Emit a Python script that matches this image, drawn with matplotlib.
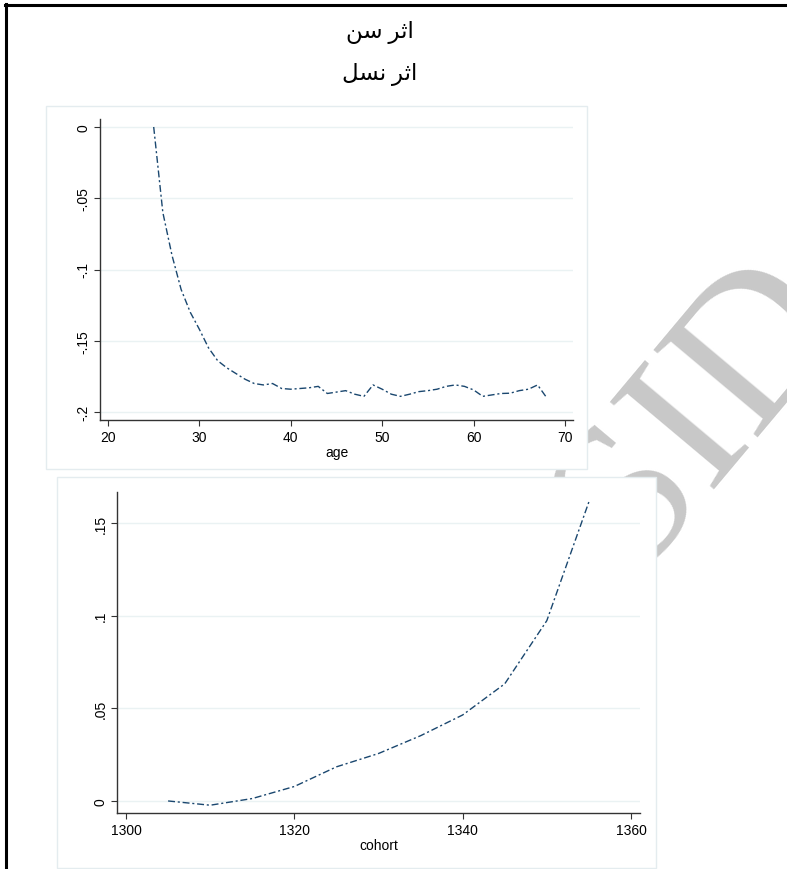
import numpy as np
import matplotlib
matplotlib.use("Agg")
import matplotlib.pyplot as plt
from matplotlib.patches import Rectangle
from matplotlib.lines import Line2D

plt.rcParams['font.family'] = ['Liberation Sans', 'DejaVu Sans']

# age effect (top panel)
age = list(range(25, 69))
age_effect = [0.0, -0.060, -0.090, -0.114, -0.130, -0.142, -0.155, -0.164, -0.169, -0.173,
              -0.177, -0.180, -0.181, -0.180, -0.1835, -0.184, -0.1835, -0.183, -0.182, -0.187,
              -0.186, -0.185, -0.1875, -0.189, -0.181, -0.184, -0.1875, -0.189, -0.1875, -0.1857,
              -0.185, -0.184, -0.182, -0.181, -0.182, -0.1845, -0.189, -0.188, -0.187, -0.1868,
              -0.185, -0.184, -0.181, -0.190]

# cohort effect (bottom panel)
cohort = [1305, 1310, 1315, 1320, 1325, 1330, 1335, 1340, 1345, 1350, 1355]
cohort_effect = [0.0, -0.0023, 0.0013, 0.0078, 0.0184, 0.0256, 0.0352, 0.0464, 0.0632, 0.0973, 0.1614]

age_ticks = [20, 30, 40, 50, 60, 70]
age_yticks = [0, -0.05, -0.1, -0.15, -0.2]
age_ylabels = ['0', '-.05', '-.1', '-.15', '-.2']
cohort_ticks = [1300, 1320, 1340, 1360]
cohort_yticks = [0, 0.05, 0.1, 0.15]
cohort_ylabels = ['0', '.05', '.1', '.15']

# titles (arabic presentation forms, visual order, since matplotlib does no shaping)
title1 = '\uFEE6\uFEB3 \uFEAE\uFE9B\uFE8D'         # اثر سن
title2 = '\uFEDE\uFEB4\uFEE7 \uFEAE\uFE9B\uFE8D'   # اثر نسل

W, H = 787, 870
fig = plt.figure(figsize=(W / 100, H / 100), dpi=100)

navy = '#1a476f'
grid_c = '#eaf2f3'
panel_c = '#e4ecef'


def px(x0, y0, x1, y1):
    return [x0 / W, 1 - y1 / H, (x1 - x0) / W, (y1 - y0) / H]


# watermark behind the panels
fig.text(700 / W, 1 - 412 / H, 'SID', fontsize=150, color='#c8c8c8', rotation=50,
         family='Liberation Serif', ha='center', va='center', zorder=-5)

# panel backgrounds
for r in [px(46, 107, 587, 470), px(57, 478, 656, 869)]:
    fig.patches.append(Rectangle((r[0], r[1]), r[2], r[3], transform=fig.transFigure,
                                 facecolor='white', edgecolor=panel_c, lw=1, zorder=0))

# outer frame (top and left)
fig.add_artist(Line2D([5 / W, 1], [1 - 6 / H, 1 - 6 / H], color='black', lw=2.2, transform=fig.transFigure))
fig.add_artist(Line2D([6 / W, 6 / W], [0, 1 - 5 / H], color='black', lw=2.2, transform=fig.transFigure))

fig.text(380 / W, 1 - 33 / H, title1, fontsize=16.5, ha='center', va='center',
         family=['Liberation Serif', 'DejaVu Sans'])
fig.text(380 / W, 1 - 75 / H, title2, fontsize=16.5, ha='center', va='center',
         family=['Liberation Serif', 'DejaVu Sans'])


def style(ax, xt, yt, ylab, xlabel):
    ax.set_facecolor('white')
    for s in ['top', 'right']:
        ax.spines[s].set_visible(False)
    for s in ['left', 'bottom']:
        ax.spines[s].set_color('#333333')
        ax.spines[s].set_linewidth(1.0)
    ax.set_xticks(xt)
    ax.set_yticks(yt)
    ax.set_yticklabels(ylab, rotation=90, va='center')
    ax.tick_params(labelsize=10, length=4, width=0.8, color='#333333', pad=3)
    ax.grid(axis='y', color=grid_c, lw=1.0)
    ax.set_axisbelow(True)
    ax.set_xlabel(xlabel, fontsize=10, labelpad=1)


ax1 = fig.add_axes(px(100, 120, 573, 421), zorder=1)
ax1.plot(age, age_effect, color=navy, lw=1.0, dashes=(5, 2, 1.5, 2))
ax1.set_xlim(19.125, 70.875)
ax1.set_ylim(-0.2056, 0.0056)
style(ax1, age_ticks, age_yticks, age_ylabels, 'age')

ax2 = fig.add_axes(px(117, 493, 640, 814), zorder=1)
ax2.plot(cohort, cohort_effect, color=navy, lw=1.0, dashes=(5, 2, 1.5, 2))
ax2.set_xlim(1298.93, 1361.07)
ax2.set_ylim(-0.0065, 0.1667)
style(ax2, cohort_ticks, cohort_yticks, cohort_ylabels, 'cohort')

fig.savefig('out.png', dpi=100)
